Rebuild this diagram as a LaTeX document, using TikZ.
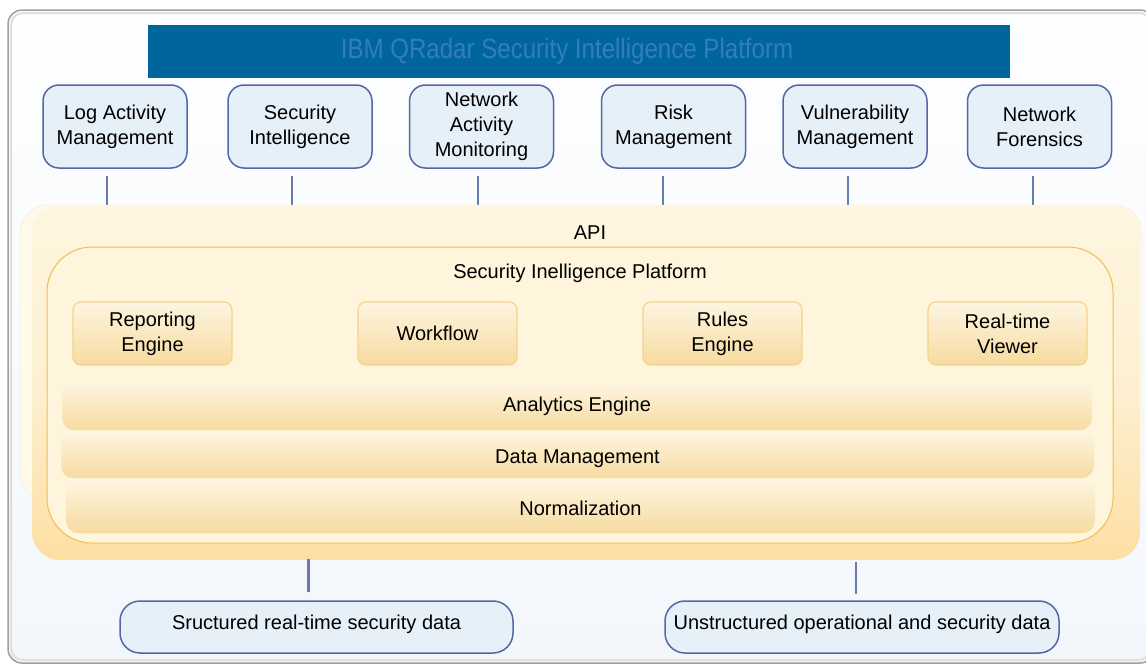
\documentclass[tikz,border=0pt]{standalone}
\usepackage{fontspec}
\setmainfont{Liberation Sans}
\usepackage{tikz}
\usetikzlibrary{positioning}

\definecolor{qbar}{HTML}{00659D}
\definecolor{qtitle}{HTML}{327FB8}
\definecolor{modfill}{HTML}{E6F0F8}
\definecolor{modline}{HTML}{5566A8}
\definecolor{linkcol}{HTML}{6A78B6}
\definecolor{bandtop}{HTML}{FEF6E0}
\definecolor{bandmid}{HTML}{FDF0D2}
\definecolor{bandbot}{HTML}{FDDFA3}
\definecolor{ghost}{HTML}{FFF9EA}
\definecolor{ghostline}{HTML}{FCEBC4}
\definecolor{platfill}{HTML}{FEF5DC}
\definecolor{platline}{HTML}{EFBF4F}
\definecolor{engtop}{HTML}{FDF5E0}
\definecolor{engbot}{HTML}{F7DBA0}
\definecolor{engline}{HTML}{F3D48C}
\definecolor{frametop}{HTML}{FDFEFE}
\definecolor{framebot}{HTML}{F3F7FC}

\begin{document}
\begin{tikzpicture}
[x=1pt,y=-1pt,
 every node/.style={font=\fontsize{20}{25}\selectfont,align=center,inner sep=0pt},
 mod/.style={draw=modline,line width=1.5pt,fill=modfill,rounded corners=16pt,
   minimum width=144pt,minimum height=83pt},
 eng/.style={draw=engline,line width=1.2pt,top color=engtop,bottom color=engbot,
   rounded corners=8pt,minimum width=159pt,minimum height=63pt},
 layer/.style={top color=engtop,bottom color=engbot,rounded corners=12pt},
 src/.style={draw=modline,line width=1.5pt,fill=modfill,rounded corners=20pt,
   minimum height=52pt},
 link/.style={draw=linkcol,line width=2.8pt}]

  \useasboundingbox (0,0) rectangle (1146,665);

  % frame
  \draw[draw=gray!75,line width=1.5pt,top color=frametop,bottom color=framebot,
    rounded corners=14pt] (8,10) rectangle (1154,663);
  \draw[draw=gray!25,line width=2pt,rounded corners=12pt] (11,13) rectangle (1151,660);

  % title
  \node (bar) at (579,51.5) [fill=qbar,minimum width=862pt,minimum height=53pt] {};
  \node (ttl) at (567,51) [text=qtitle,font=\fontsize{28}{30}\selectfont]
    {\scalebox{0.86}[1]{IBM QRadar Security Intelligence Platform}};

  % modules
  \node (log)  at (115,126.5)  [mod] {Log Activity\\Management};
  \node (sec)  at (300,126.5)  [mod] {Security\\Intelligence};
  \node (net)  at (481.5,126.5) [mod] {Network\\Activity\\Monitoring};
  \node (risk) at (673.5,126.5) [mod] {Risk\\Management};
  \node (vul)  at (855,126.5)  [mod] {Vulnerability\\Management};
  \node (nfo)  at (1039.5,126.5) [mod] {Network\\Forensics};

  \foreach \m/\d in {log/-8,sec/-8,net/-3.5,risk/-10.5,vul/-7,nfo/-6.5}
    \draw[link] (\m.south) ++(\d,7) -- ++(0,30);

  % api band
  \node (back) at (581,352.5) [fill=ghost,draw=ghostline,rounded corners=28pt,
    minimum width=1122pt,minimum height=295pt] {};
  \node (api) at (586,382.5) [top color=bandtop,bottom color=bandbot,middle color=bandmid,
    rounded corners=28pt,minimum width=1108pt,minimum height=355pt] {};
  \node (apitxt) at (590,233) {API};

  % platform
  \node (plat) at (580,395) [fill=platfill,draw=platline,line width=1pt,rounded corners=45pt,
    minimum width=1066pt,minimum height=296pt] {};
  \node (pltxt) at (580,273) {Security Inelligence Platform};

  \node (rep)  at (152.5,333.5) [eng] {Reporting\\Engine};
  \node (wf)   at (437.5,333.5) [eng] {Workflow};
  \node (rul)  at (722.5,333.5) [eng] {Rules\\Engine};
  \node (view) at (1007.5,333.5) [eng] {Real-time\\Viewer};

  \node (ana)  at (577,406.5) [layer,minimum width=1030pt,minimum height=47pt] {Analytics Engine};
  \node (dat)  at (577.5,455) [layer,minimum width=1033pt,minimum height=46pt]
    {\raisebox{-4pt}[\height][\depth]{Data Management}};
  \node (norm) at (580.5,506.5) [layer,minimum width=1029pt,minimum height=53pt]
    {\raisebox{-2pt}[\height][\depth]{Normalization}};

  % data sources
  \node (sdat) at (316.5,627) [src,minimum width=393pt]
    {\raisebox{3pt}[\height][\depth]{Sructured real-time security data}};
  \node (udat) at (862,627) [src,minimum width=394pt]
    {\raisebox{3pt}[\height][\depth]{Unstructured operational and security data}};

  \draw[link] (sdat.north) ++(-8,-8) -- ++(0,-33);
  \draw[link] (udat.north) ++(-6,-6) -- ++(0,-32);

\end{tikzpicture}
\end{document}
